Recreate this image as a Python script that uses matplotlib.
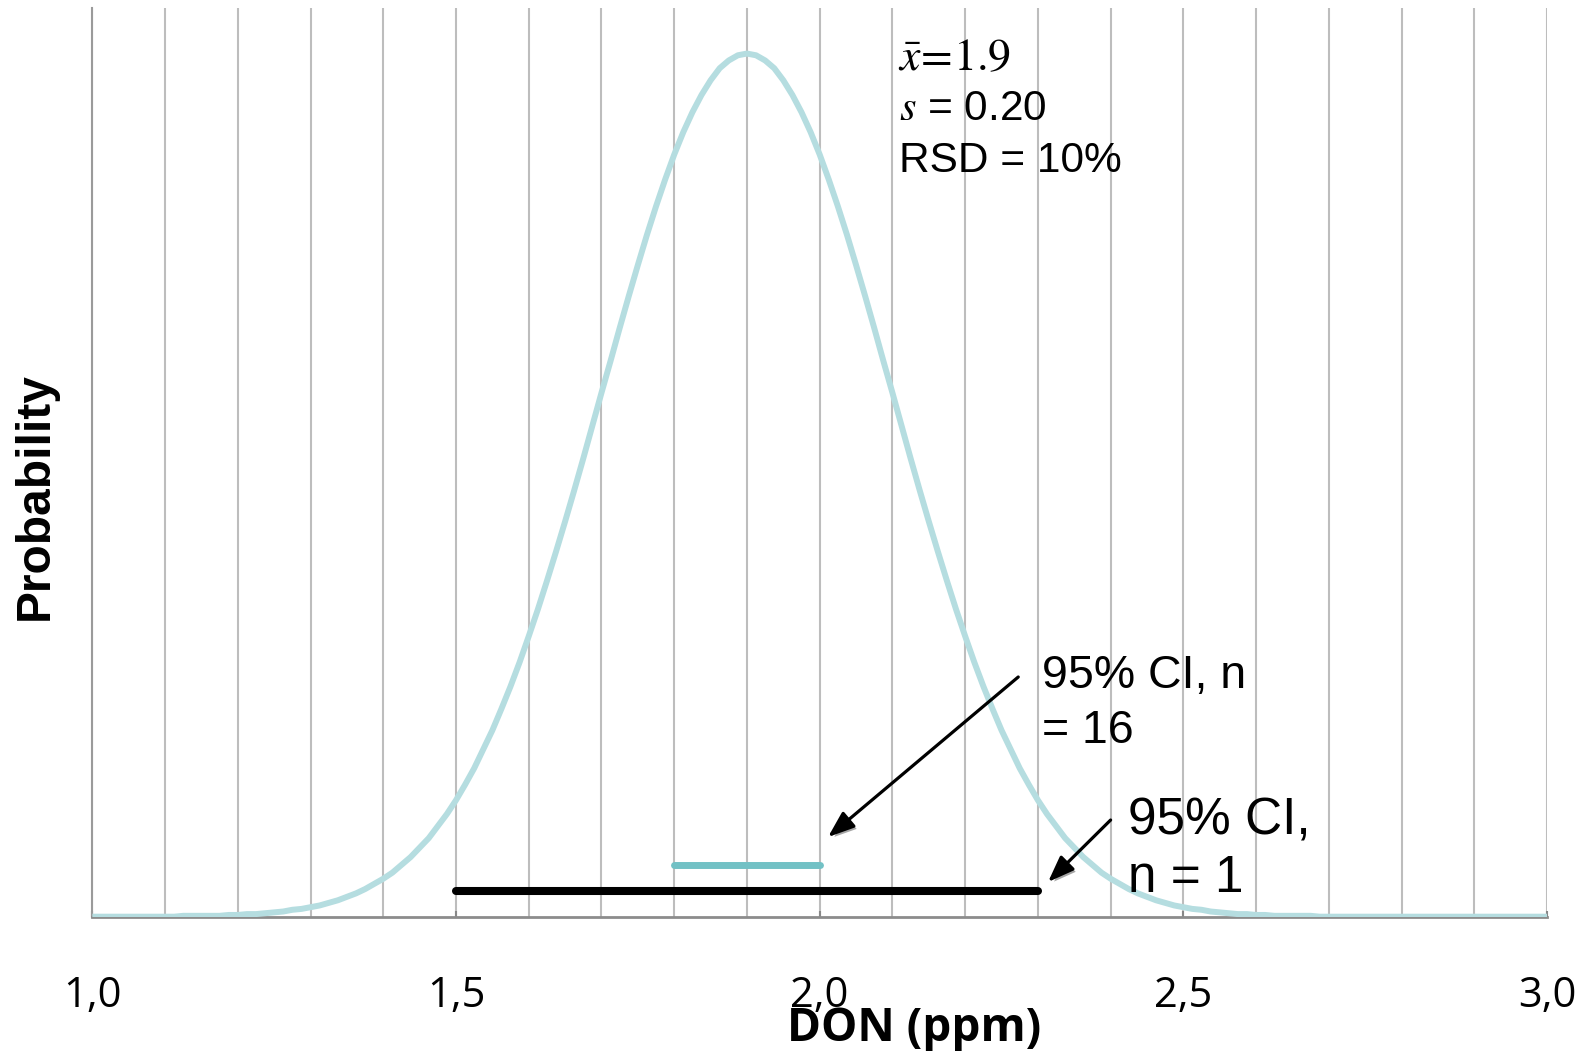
import numpy as np
import matplotlib.pyplot as plt
import matplotlib.patheffects as pe

plt.rcParams['mathtext.fontset'] = 'stix'

# relative probability, every 0.0125 ppm from 1.0 to 3.0
don = np.round(np.arange(1.0, 3.0001, 0.0125), 4)
left_half = [0.000, 0.000, 0.000, 0.000, 0.000, 0.000, 0.000, 0.000,
             0.000, 0.000, 0.001, 0.001, 0.001, 0.001, 0.001, 0.002,
             0.002, 0.003, 0.003, 0.004, 0.005, 0.006, 0.008, 0.009,
             0.011, 0.013, 0.016, 0.019, 0.023, 0.027, 0.032, 0.038,
             0.044, 0.051, 0.060, 0.069, 0.080, 0.091, 0.105, 0.119,
             0.135, 0.153, 0.172, 0.194, 0.216, 0.241, 0.267, 0.295,
             0.325, 0.356, 0.389, 0.423, 0.458, 0.494, 0.531, 0.569,
             0.607, 0.644, 0.682, 0.719, 0.755, 0.790, 0.823, 0.854,
             0.883, 0.909, 0.932, 0.952, 0.969, 0.983, 0.992, 0.998]
prob = left_half + [1.000] + left_half[::-1] + [0.000] * 16

# confidence intervals (low, high, height)
ci_16 = [1.8, 2.0, 0.060]
ci_1 = [1.5, 2.3, 0.030]

xticks = [1.0, 1.5, 2.0, 2.5, 3.0]
xtick_labels = ["1,0", "1,5", "2,0", "2,5", "3,0"]

curve_color = "#b5dde0"
teal = "#72c1c5"

fig = plt.figure(figsize=(15.87, 10.51), dpi=100)
ax = fig.add_axes([0.0582, 0.1278, 0.9166, 0.8646])

ax.plot(don, prob, color=curve_color, lw=4.3, solid_capstyle="butt",
        solid_joinstyle="round", zorder=3)
ax.plot(ci_16[:2], [ci_16[2]] * 2, color=teal, lw=5, solid_capstyle="round", zorder=4)
ax.plot(ci_1[:2], [ci_1[2]] * 2, color="black", lw=5.8, solid_capstyle="round", zorder=4)

ax.set_xlim(1.0, 3.0)
ax.set_ylim(0, 1.0528)
ax.set_xticks(xticks)
ax.set_xticklabels(xtick_labels, fontfamily="Open Sans", fontsize=30)
ax.set_xticks(np.round(np.arange(1.0, 3.0001, 0.1), 1), minor=True)
ax.set_yticks([])
ax.tick_params(axis="x", which="major", direction="in", length=4, width=1.5,
               color="#888888", pad=42)
ax.tick_params(axis="x", which="minor", length=0)
ax.grid(True, axis="x", which="both", color="#bdbdbd", lw=1.5, zorder=0)
ax.set_axisbelow(True)

for side in ["top", "right"]:
    ax.spines[side].set_visible(False)
ax.spines["left"].set_color("#9a9a9a")
ax.spines["left"].set_linewidth(1.5)
ax.spines["bottom"].set_color("#8c8c8c")
ax.spines["bottom"].set_linewidth(2)

# stats text
ax.text(2.107, 0.981, r"$\bar{x}\!=\!1.9$", fontsize=33, va="baseline")
ax.text(2.109, 0.923, r"$s$ = 0.20", fontfamily="Liberation Sans", fontsize=30.5, va="baseline")
ax.text(2.109, 0.863, "RSD = 10%", fontfamily="Liberation Sans", fontsize=30.5, va="baseline")

ax.text(2.306, 0.265, "95% CI, n", fontfamily="Liberation Sans", fontsize=33.5, va="baseline")
ax.text(2.306, 0.201, "= 16", fontfamily="Liberation Sans", fontsize=33.5, va="baseline")
ax.text(2.424, 0.0948, "95% CI,", fontfamily="Liberation Sans", fontsize=37, va="baseline")
ax.text(2.424, 0.0287, "n = 1", fontfamily="Liberation Sans", fontsize=37, va="baseline")

shadow = [pe.SimplePatchShadow(offset=(2, -2), alpha=0.35), pe.Normal()]
arrow_style = "-|>,head_length=0.8,head_width=0.3"
ax.annotate("", xy=(2.0115, 0.0923), xytext=(2.273, 0.2777),
            arrowprops=dict(arrowstyle=arrow_style, color="black", lw=2.3,
                            mutation_scale=20, shrinkA=0, shrinkB=0,
                            path_effects=shadow), zorder=5)
ax.annotate("", xy=(2.314, 0.0402), xytext=(2.400, 0.112),
            arrowprops=dict(arrowstyle=arrow_style, color="black", lw=2.3,
                            mutation_scale=20, shrinkA=0, shrinkB=0,
                            path_effects=shadow), zorder=5)

fig.text(0.022, 0.528, "Probability", rotation=90, fontfamily="Liberation Sans",
         fontweight="bold", fontsize=34.5, ha="center", va="center")
fig.text(0.576, 0.021, "DON (ppm)", fontfamily="Open Sans", fontweight="bold",
         fontsize=33, ha="center", va="center")

fig.savefig("out.png", dpi=100)
